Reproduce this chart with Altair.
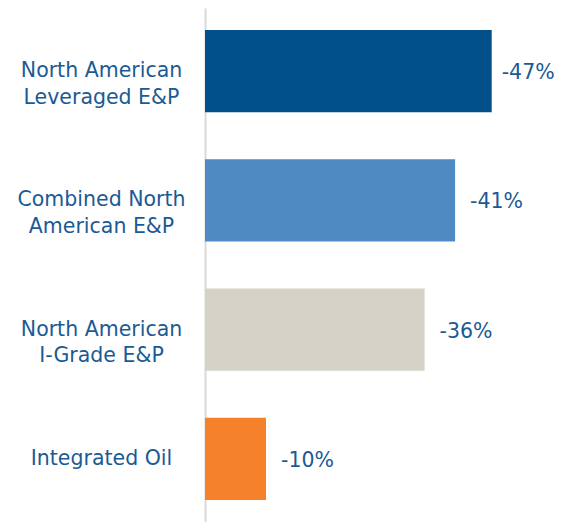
import altair as alt
import pandas as pd

categories = ["North American|Leveraged E&P", "Combined North|American E&P",
              "North American|I-Grade E&P", "Integrated Oil"]
values = [-47, -41, -36, -10]
labels = ["-47%", "-41%", "-36%", "-10%"]
colors = ["#01508A", "#4F8BC2", "#D5D3C7", "#F5822A"]

df = pd.DataFrame({"cat": categories, "val": values, "lab": labels, "col": colors})

TXT = "#1B5A94"
FONT = "DejaVu Sans"

y = alt.Y("cat:N", sort=categories, title=None,
          scale=alt.Scale(paddingInner=0.363, paddingOuter=0.17),
          axis=alt.Axis(labelExpr="split(datum.label, '|')", labelAlign="center",
                        labelBaseline="middle", labelPadding=104, labelFontSize=20.5,
                        labelFont=FONT, labelColor=TXT, labelLineHeight=26.7,
                        labelLimit=0, ticks=False, domainColor="#D9D9D9",
                        domainWidth=2, grid=False))
x = alt.X("val:Q", title=None,
          scale=alt.Scale(domain=[-50, 0], reverse=True, nice=False),
          axis=None)

bars = alt.Chart(df).mark_bar().encode(
    x=x, x2=alt.datum(0), y=y,
    color=alt.Color("col:N", scale=None, legend=None))
text_first = alt.Chart(df).transform_filter(alt.datum.val < -45).mark_text(
    align="left", baseline="middle", dx=10, dy=2,
    fontSize=20.5, font=FONT, color=TXT).encode(x=x, y=y, text="lab:N")
text_rest = alt.Chart(df).transform_filter(alt.datum.val >= -45).mark_text(
    align="left", baseline="middle", dx=15, dy=2,
    fontSize=20.5, font=FONT, color=TXT).encode(x=x, y=y, text="lab:N")

chart = (bars + text_first + text_rest).properties(
    width=305, height=514,
    padding={"left": 197, "top": 0, "right": 46, "bottom": 0},
    autosize=alt.AutoSizeParams(type="none"),
).configure_view(stroke=None)

chart.save("out.html", embed_options={"renderer": "svg", "actions": False})
